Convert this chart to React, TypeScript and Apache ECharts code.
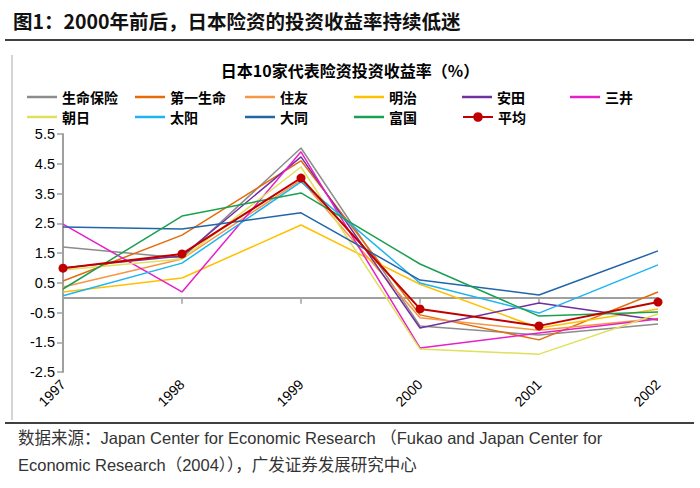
import React, { useEffect, useRef } from "react";
import * as echarts from "echarts";

const years = ["1997", "1998", "1999", "2000", "2001", "2002"];

const seriesNames = ["生命保险", "第一生命", "住友", "明治", "安田", "三井", "朝日", "太阳", "大同", "富国", "平均"];

const shengming = [1.7, 1.33, 5.03, -0.95, -1.26, -0.89];
const diyi = [0.56, 2.1, 4.6, -0.58, -1.42, 0.19];
const zhuyou = [0.36, 1.3, 3.95, -0.68, -1.1, -0.7];
const mingzhi = [0.19, 0.66, 2.44, 0.45, -1.02, -0.38];
const antian = [1.0, 1.4, 4.73, -1.02, -0.18, -0.75];
const sanjing = [2.47, 0.19, 4.9, -1.69, -1.19, -0.72];
const chaori = [0.93, 1.3, 4.39, -1.73, -1.9, -0.55];
const taiyang = [0.06, 1.16, 3.89, 0.49, -0.52, 1.1];
const datong = [2.37, 2.31, 2.85, 0.59, 0.09, 1.57];
const fuguo = [0.29, 2.74, 3.52, 1.13, -0.62, -0.48];
const pingjun = [0.99, 1.47, 4.02, -0.38, -0.95, -0.15];

const seriesData = [shengming, diyi, zhuyou, mingzhi, antian, sanjing, chaori, taiyang, datong, fuguo, pingjun];

const colors = ["#8C8C8C", "#E46C0A", "#F79646", "#FFC000", "#7030A0", "#E620C8", "#E0E05A", "#1EB4F0", "#2066A8", "#1AA050", "#C00000"];

const yMin = -2.5;
const yMax = 5.5;
const yInterval = 1;

const legendLefts = [27, 135, 245, 354, 462, 570];
const legendTops = [90, 110];

export default function App() {
  const ref = useRef<HTMLDivElement>(null);
  useEffect(() => {
    if (!ref.current) return;
    const chart = echarts.init(ref.current, null, { renderer: "svg" });
    const cjk = '"Noto Sans CJK SC", "Liberation Sans", sans-serif';
    const latin = '"Liberation Sans", "Noto Sans CJK SC", sans-serif';
    const legends = seriesNames.map((name, i) => {
      const avg = name === "平均";
      return {
        data: [name],
        left: legendLefts[i % 6],
        top: legendTops[Math.floor(i / 6)],
        itemWidth: 30,
        itemHeight: avg ? 12 : 2.5,
        icon: avg ? undefined : "rect",
        itemGap: 0,
        padding: 0,
        textStyle: { fontSize: 14, fontWeight: "bold", color: "#000", fontFamily: cjk },
      };
    });
    const series = seriesNames.map((name, i) => {
      const avg = name === "平均";
      return {
        name,
        type: "line",
        data: seriesData[i],
        symbol: avg ? "circle" : "none",
        symbolSize: avg ? 9 : 0,
        showSymbol: avg,
        z: avg ? 10 : 2,
        lineStyle: { color: colors[i], width: avg ? 2 : 1.5 },
        itemStyle: { color: colors[i] },
      };
    });
    chart.setOption({
      animation: false,
      backgroundColor: "#fff",
      title: {
        text: "日本10家代表险资投资收益率（%）",
        left: "center",
        top: 62,
        padding: 0,
        textStyle: { fontSize: 16, fontWeight: "bold", color: "#000", fontFamily: cjk },
      },
      legend: legends,
      grid: { left: 63, right: 42, top: 134, bottom: 116 },
      xAxis: {
        type: "category",
        data: years,
        boundaryGap: false,
        axisLine: { lineStyle: { color: "#A0A0A0", width: 2 } },
        axisTick: { show: true, alignWithLabel: true, length: 6, lineStyle: { color: "#A0A0A0", width: 1.5 } },
        axisLabel: { rotate: 45, fontSize: 14, color: "#000", fontFamily: latin, margin: 10 },
        splitLine: { show: false },
      },
      yAxis: {
        type: "value",
        min: yMin,
        max: yMax,
        interval: yInterval,
        axisLine: { show: true, lineStyle: { color: "#A0A0A0", width: 2 } },
        axisTick: { show: true, length: 6, lineStyle: { color: "#A0A0A0", width: 1.5 } },
        axisLabel: { fontSize: 14.5, color: "#000", fontFamily: latin, margin: 8, formatter: (v: number) => v.toFixed(1) },
        splitLine: { show: false },
      },
      series,
      graphic: [
        {
          type: "text",
          left: 13,
          top: 11,
          style: { text: "图1：2000年前后，日本险资的投资收益率持续低迷", fontSize: 19.5, fontWeight: "bold", fill: "#111", fontFamily: cjk },
        },
        { type: "line", shape: { x1: 5, y1: 40, x2: 694, y2: 40 }, style: { stroke: "#000", lineWidth: 1.5 } },
        { type: "line", shape: { x1: 12, y1: 55, x2: 12, y2: 420 }, style: { stroke: "#D4D4D4", lineWidth: 2 } },
        { type: "line", shape: { x1: 5, y1: 423, x2: 694, y2: 423 }, style: { stroke: "#000", lineWidth: 1.5 } },
        {
          type: "text",
          left: 18,
          top: 430,
          style: { text: "数据来源：Japan Center for Economic Research （Fukao and Japan Center for", fontSize: 16.5, fill: "#333", fontFamily: latin },
        },
        {
          type: "text",
          left: 18,
          top: 457,
          style: { text: "Economic Research（2004）），广发证券发展研究中心", fontSize: 16.5, fill: "#333", fontFamily: latin },
        },
      ],
    });
    return () => chart.dispose();
  }, []);
  return <div ref={ref} style={{ position: "fixed", left: 0, top: 0, width: 700, height: 488 }} />;
}
